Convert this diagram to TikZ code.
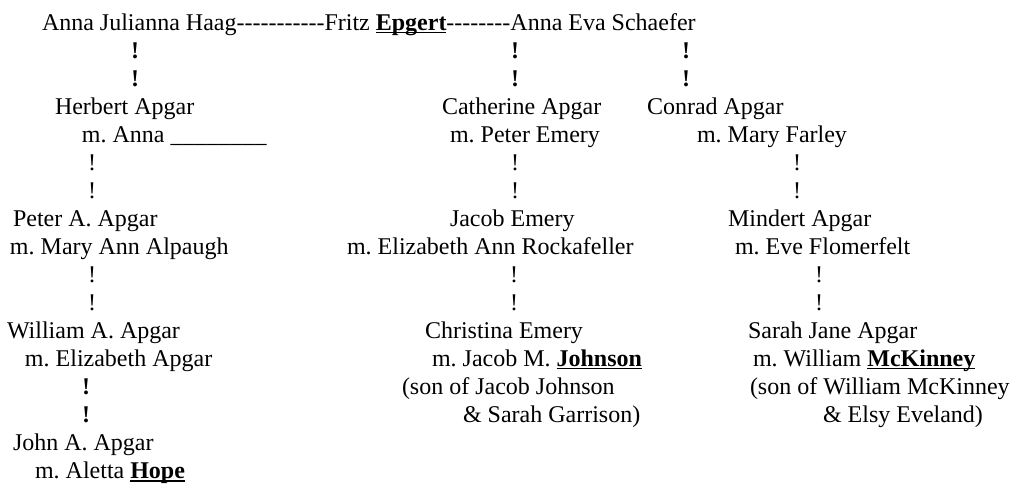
\documentclass[tikz,border=0pt]{standalone}
\usepackage{fontspec}
\setmainfont{Liberation Serif}
\frenchspacing
\newcommand{\ul}[1]{\setbox0\hbox{\textbf{#1}}\rlap{\rule[-1.6pt]{\wd0}{0.6pt}}\box0}
\tikzset{
  txt/.style={anchor=base west, inner sep=0pt, outer sep=0pt, font=\fontsize{12}{14}\selectfont},
  bang/.style={anchor=base, inner sep=0pt, outer sep=0pt, font=\fontsize{12}{14}\selectfont},
  bbang/.style={bang, font=\fontsize{12}{14}\selectfont\bfseries}
}
\begin{document}
\begin{tikzpicture}[x=0.5pt,y=-0.5pt]
\useasboundingbox (0,0) rectangle (1013,483);
% line baselines: 30 + (k-1)*28.02
\node[txt] (top) at (42,30) {Anna Julianna Haag-{}-{}-{}-{}-{}-{}-{}-{}-{}-{}-Fritz \ul{Epgert}-{}-{}-{}-{}-{}-{}-{}-Anna Eva Schaefer};
% generation 1 connectors
\node[bbang] (c1a) at (135,58) {!};
\node[bbang] (c1b) at (135,86) {!};
\node[bbang] (c2a) at (515,58) {!};
\node[bbang] (c2b) at (515,86) {!};
\node[bbang] (c3a) at (686,58) {!};
\node[bbang] (c3b) at (686,86) {!};
% generation 2
\node[txt] (herbert) at (55,114.1) {Herbert Apgar};
\node[txt] (herbertm) at (82,142.1) {m. Anna \textunderscore\textunderscore\textunderscore\textunderscore\textunderscore\textunderscore\textunderscore\textunderscore};
\node[txt] (catherine) at (442,114.1) {Catherine Apgar};
\node[txt] (catherinem) at (450,142.1) {m. Peter Emery};
\node[txt] (conrad) at (647,114.1) {Conrad Apgar};
\node[txt] (conradm) at (697,142.1) {m. Mary Farley};
% connectors
\node[bang] (d1a) at (92,170.1) {!};
\node[bang] (d1b) at (92,198.1) {!};
\node[bang] (d2a) at (515,170.1) {!};
\node[bang] (d2b) at (515,198.1) {!};
\node[bang] (d3a) at (797,170.1) {!};
\node[bang] (d3b) at (797,198.1) {!};
% generation 3
\node[txt] (peter) at (13,226.1) {Peter A. Apgar};
\node[txt] (peterm) at (10,254.2) {m. Mary Ann Alpaugh};
\node[txt] (jacob) at (450,226.1) {Jacob Emery};
\node[txt] (jacobm) at (347,254.2) {m. Elizabeth Ann Rockafeller};
\node[txt] (mindert) at (728,226.1) {Mindert Apgar};
\node[txt] (mindertm) at (735,254.2) {m. Eve Flomerfelt};
% connectors
\node[bang] (e1a) at (92,282.2) {!};
\node[bang] (e1b) at (92,310.2) {!};
\node[bang] (e2a) at (514,282.2) {!};
\node[bang] (e2b) at (514,310.2) {!};
\node[bang] (e3a) at (819,282.2) {!};
\node[bang] (e3b) at (819,310.2) {!};
% generation 4
\node[txt] (william) at (7,338.2) {William A. Apgar};
\node[txt] (williamm) at (25,366.2) {m. Elizabeth Apgar};
\node[txt] (christina) at (425,338.2) {Christina Emery};
\node[txt] (christinam) at (432,366.2) {m. Jacob M. \ul{Johnson}};
\node[txt] (christinas) at (402,394.3) {(son of Jacob Johnson};
\node[txt] (christinat) at (463,422.3) {\& Sarah Garrison)};
\node[txt] (sarah) at (748,338.2) {Sarah Jane Apgar};
\node[txt] (sarahm) at (753,366.2) {m. William \ul{McKinney}};
\node[txt] (sarahs) at (750,394.3) {(son of William McKinney};
\node[txt] (saraht) at (823,422.3) {\& Elsy Eveland)};
% connectors
\node[bbang] (f1a) at (86,394.3) {!};
\node[bbang] (f1b) at (86,422.3) {!};
% generation 5
\node[txt] (john) at (13,450.3) {John A. Apgar};
\node[txt] (johnm) at (35,478.3) {m. Aletta \ul{Hope}};
\end{tikzpicture}
\end{document}
